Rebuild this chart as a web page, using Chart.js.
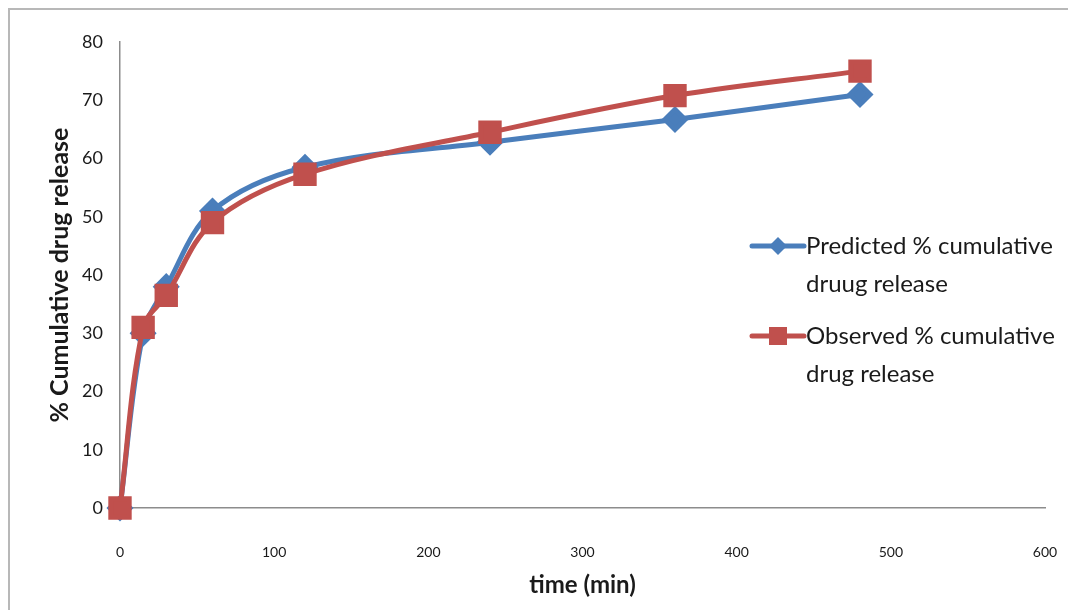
<!DOCTYPE html>
<html>
<head>
<meta charset="utf-8">
<script src="https://cdn.jsdelivr.net/npm/chart.js@4/dist/chart.umd.min.js"></script>
<style>
  html, body { margin: 0; padding: 0; background: #fff; }
  #wrap { position: relative; width: 1068px; height: 610px; }
  #frame { position: absolute; left: 8px; top: 8px; right: 0; bottom: 0;
           border-top: 2px solid #b8b8b8; border-left: 2px solid #b8b8b8; pointer-events: none; }
  canvas { position: absolute; left: 0; top: 0; }
</style>
</head>
<body>
<div id="wrap">
  <canvas id="c" width="1068" height="610"></canvas>
  <div id="frame"></div>
</div>
<script>
const times = [0, 15, 30, 60, 120, 240, 360, 480];
const predicted = [0, 30, 38, 51, 58.5, 62.8, 66.7, 71];
const observed = [0, 31, 36.5, 49, 57.3, 64.5, 70.8, 75];
const seriesNames = [["Predicted % cumulative", "druug release"], ["Observed % cumulative", "drug release"]];
const xTitle = "time (min)";
const yTitle = "% Cumulative drug release";

const BLUE = "#4A7EBB";
const RED = "#C0504D";
const FONT = "Lato, 'Liberation Sans', sans-serif";

const legendPlugin = {
  id: 'customLegend',
  afterDraw(chart) {
    const ctx = chart.ctx;
    const items = [
      { ds: chart.data.datasets[1], y: 246 },
      { ds: chart.data.datasets[0], y: 336 }
    ];
    ctx.save();
    items.forEach(it => {
      const ds = it.ds;
      ctx.strokeStyle = ds.borderColor;
      ctx.lineWidth = 5;
      ctx.lineCap = 'round';
      ctx.beginPath();
      ctx.moveTo(752, it.y);
      ctx.lineTo(804, it.y);
      ctx.stroke();
      ctx.fillStyle = ds.pointBackgroundColor;
      if (ds.pointStyle === 'rect') {
        ctx.fillRect(778 - 9, it.y - 9, 18, 18);
      } else {
        ctx.beginPath();
        ctx.moveTo(778, it.y - 9);
        ctx.lineTo(787, it.y);
        ctx.lineTo(778, it.y + 9);
        ctx.lineTo(769, it.y);
        ctx.closePath();
        ctx.fill();
      }
      ctx.fillStyle = "#1a1a1a";
      ctx.font = "24px " + FONT;
      ctx.textBaseline = 'middle';
      ctx.textAlign = 'left';
      ds.label.forEach((line, i) => {
        ctx.fillText(line, 806, it.y + i * 38);
      });
    });
    ctx.restore();
  }
};

new Chart(document.getElementById('c'), {
  type: 'line',
  data: {
    datasets: [
      {
        label: seriesNames[1],
        data: times.map((t, i) => ({ x: t, y: observed[i] })),
        borderColor: RED,
        backgroundColor: RED,
        pointBackgroundColor: RED,
        pointBorderColor: RED,
        pointStyle: 'rect',
        pointRadius: 13,
        borderWidth: 5,
        tension: 0.35,
        clip: false,
        order: 0
      },
      {
        label: seriesNames[0],
        data: times.map((t, i) => ({ x: t, y: predicted[i] })),
        borderColor: BLUE,
        backgroundColor: BLUE,
        pointBackgroundColor: BLUE,
        pointBorderColor: BLUE,
        pointStyle: 'rectRot',
        pointRadius: 10,
        borderWidth: 5,
        tension: 0.35,
        clip: false,
        order: 1
      }
    ]
  },
  options: {
    responsive: false,
    animation: false,
    layout: { padding: { left: 40, top: 42, right: 23, bottom: 0 } },
    plugins: { legend: { display: false }, tooltip: { enabled: false } },
    scales: {
      x: {
        type: 'linear',
        min: 0, max: 600,
        ticks: { stepSize: 100, padding: 2, color: '#1a1a1a', font: { family: FONT, size: 14 } },
        grid: { drawOnChartArea: false, drawTicks: true, tickLength: 34, tickColor: 'rgba(0,0,0,0)' },
        border: { display: true, color: '#8c8c8c', width: 1.5 },
        title: { display: true, text: xTitle, color: '#1a1a1a', font: { family: FONT, size: 24, weight: 'bold' }, padding: { top: 10, bottom: 10 } },
        afterFit(s) { s.height = 102; }
      },
      y: {
        min: 0, max: 80,
        ticks: { stepSize: 10, padding: 17, color: '#1a1a1a', font: { family: FONT, size: 18 } },
        grid: { drawOnChartArea: false, drawTicks: false },
        border: { display: true, color: '#8c8c8c', width: 1.5 },
        title: { display: true, text: yTitle, color: '#1a1a1a', font: { family: FONT, size: 25, weight: 'bold' }, padding: { top: 5, bottom: 0 } },
        afterFit(s) { s.width = 80; }
      }
    }
  },
  plugins: [legendPlugin]
});
</script>
</body>
</html>
